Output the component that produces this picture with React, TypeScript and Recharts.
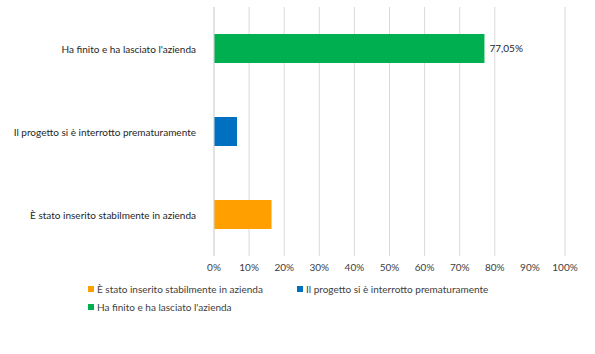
import { BarChart, Bar, XAxis, YAxis, CartesianGrid, Legend, LabelList } from "recharts";

const categories = [
  "È stato inserito stabilmente in azienda",
  "Il progetto si è interrotto prematuramente",
  "Ha finito e ha lasciato l'azienda",
];
const values = [16.39, 6.56, 77.05];
const colors = ["#FFA000", "#0070C0", "#00B050"];
const xTicks = [0, 10, 20, 30, 40, 50, 60, 70, 80, 90, 100];

const keys = categories.map((_, i) => "s" + i);
const data = categories.map((name, i) => {
  const row: Record<string, string | number | null> = { name };
  keys.forEach((k, j) => {
    row[k] = i === j ? values[i] : null;
  });
  return row;
});

const font = "Lato, 'Open Sans', sans-serif";

const fmtPct = (v: any) =>
  v == null ? "" : Number(v).toFixed(2).replace(".", ",") + "%";

// single-line category label (recharts would wrap it otherwise)
function CatTick(props: any) {
  const { x, y, payload } = props;
  return (
    <text x={x - 10} y={y} dy={4} textAnchor="end" fontSize={10} fill="#262626" fontFamily={font}>
      {payload.value}
    </text>
  );
}

function LegendBox() {
  return (
    <div
      style={{
        display: "grid",
        gridTemplateColumns: "209px auto",
        rowGap: 6,
        fontFamily: font,
        fontSize: 10,
        color: "#404040",
        marginLeft: 88,
      }}
    >
      {categories.map((c, i) => (
        <div key={c} style={{ display: "flex", alignItems: "center", gap: 3 }}>
          <span style={{ width: 6, height: 6, background: colors[i], display: "inline-block" }} />
          <span>{c}</span>
        </div>
      ))}
    </div>
  );
}

export default function App() {
  return (
    <div style={{ position: "absolute", left: 0, top: 0, background: "#fff" }}>
      <BarChart
        width={595}
        height={354}
        data={data}
        layout="vertical"
        margin={{ top: 7, right: 30, left: 0, bottom: 41 }}
      >
        <CartesianGrid horizontal={false} stroke="#d9d9d9" />
        <XAxis
          type="number"
          domain={[0, 100]}
          ticks={xTicks}
          tickFormatter={(v) => v + "%"}
          axisLine={false}
          tickLine={false}
          tick={{ fontSize: 10, fill: "#404040", fontFamily: font }}
          height={27}
        />
        <YAxis
          type="category"
          dataKey="name"
          reversed
          width={214}
          axisLine={{ stroke: "#d9d9d9" }}
          tickLine={false}
          tick={<CatTick />}
        />
        <Legend verticalAlign="bottom" align="left" content={() => <LegendBox />} />
        {keys.map((k, i) => (
          <Bar key={k} dataKey={k} stackId="a" fill={colors[i]} barSize={29} isAnimationActive={false}>
            {i === 2 && (
              <LabelList
                dataKey={k}
                position="right"
                formatter={fmtPct}
                style={{ fontSize: 10, fill: "#262626", fontFamily: font }}
              />
            )}
          </Bar>
        ))}
      </BarChart>
    </div>
  );
}
